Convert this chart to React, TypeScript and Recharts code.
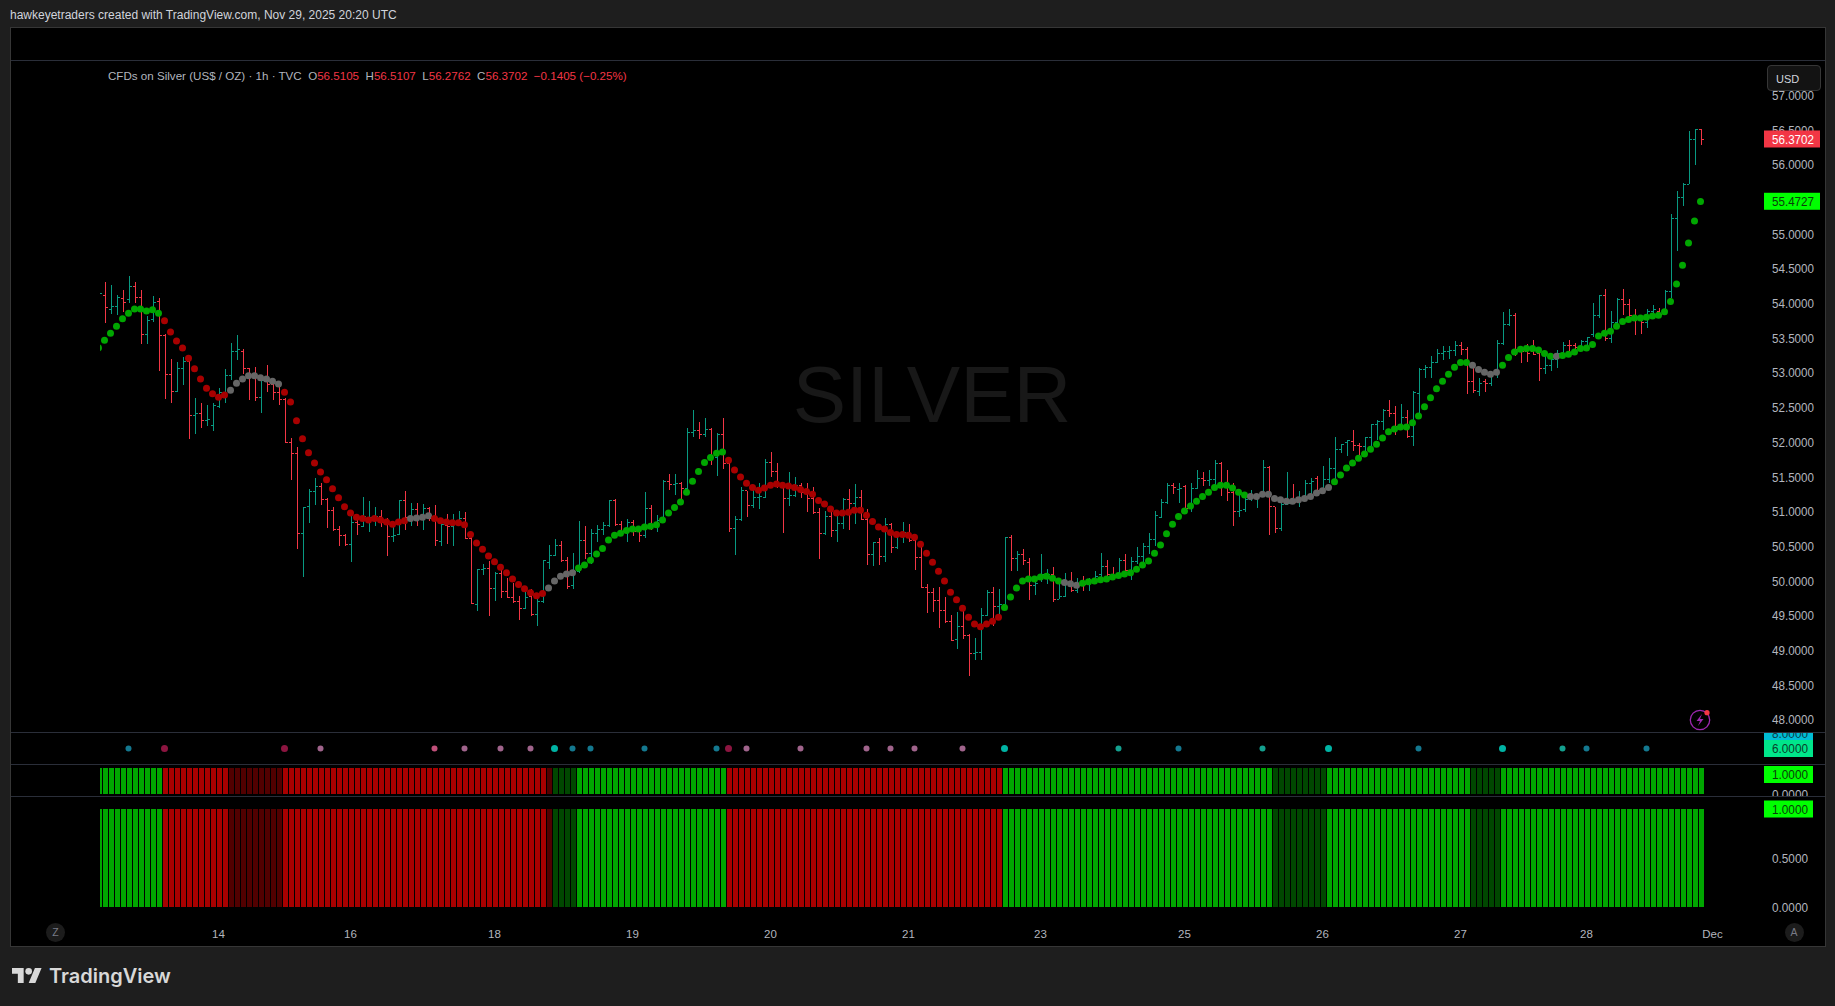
import { Bar, ComposedChart, Line, XAxis, YAxis } from 'recharts';

// hourly OHLC, one value per bar
const opens = [
  54.05,54.12,53.92,53.96,54.07,54.06,54.24,54.08,53.56,53.77,
  54.03,53.54,52.97,52.73,53.07,53.17,52.39,52.42,52.31,52.24,
  52.51,52.72,52.96,53.31,53.31,53.06,52.97,52.64,52.93,52.83,
  52.72,52.62,52.00,51.84,50.69,51.07,51.29,51.36,51.18,51.02,
  50.75,50.65,50.53,50.84,50.78,50.84,50.91,50.93,50.84,50.64,
  50.67,51.16,50.91,51.03,50.92,51.04,50.90,50.57,50.80,50.79,
  50.84,50.90,50.61,49.66,50.16,50.18,49.90,50.11,49.85,49.76,
  49.71,49.60,49.78,49.52,49.70,50.27,50.37,50.51,50.30,49.93,
  50.14,50.58,50.40,50.69,50.75,50.80,51.16,50.81,50.70,50.85,
  50.72,50.65,51.05,50.79,50.87,51.44,51.39,51.41,51.34,52.14,
  52.17,52.11,52.19,51.78,52.11,51.70,50.76,50.88,51.30,51.09,
  51.21,51.21,51.71,51.58,51.41,51.19,51.24,51.37,51.27,51.19,
  50.99,50.68,50.93,50.73,50.83,51.18,51.12,51.21,50.89,50.38,
  50.56,50.35,50.82,50.48,50.67,50.70,50.59,50.34,49.91,49.83,
  49.72,49.58,49.42,49.16,49.35,49.21,48.96,48.97,49.51,49.84,
  49.63,49.66,50.63,50.32,50.38,50.27,49.93,50.04,50.09,50.10,
  49.74,49.78,49.97,49.86,50.00,49.95,50.00,50.09,50.21,50.09,
  50.07,50.30,50.15,50.28,50.35,50.50,50.60,50.92,51.13,51.37,
  51.32,51.36,51.05,51.34,51.48,51.45,51.47,51.70,51.36,51.28,
  51.00,51.03,51.17,51.22,51.22,51.63,51.07,50.76,51.11,51.19,
  51.13,51.19,51.40,51.48,51.30,51.46,51.62,51.89,51.99,52.01,
  51.95,51.94,52.07,52.25,52.30,52.46,52.42,52.23,52.35,52.08,
  52.70,53.05,53.08,53.15,53.28,53.31,53.32,53.40,53.33,52.87,
  52.73,52.87,52.84,52.97,53.43,53.70,53.83,53.33,53.31,53.31,
  53.28,53.07,53.10,53.19,53.28,53.40,53.39,53.38,53.45,53.55,
  53.83,54.11,53.50,53.73,54.06,53.98,53.81,53.79,53.72,53.89,
  53.89,53.84,54.17,55.22,55.53,55.72,56.36,56.51,
];
const highs = [
  54.17,54.31,54.27,54.12,54.20,54.40,54.31,54.20,53.82,54.11,
  54.08,53.56,53.20,53.15,53.23,53.26,52.64,52.57,52.54,52.56,
  52.78,53.05,53.43,53.55,53.34,53.07,53.08,52.96,53.11,52.93,
  52.83,52.64,52.06,51.93,51.07,51.32,51.49,51.41,51.20,51.07,
  50.79,50.68,51.03,50.96,51.21,51.16,51.07,51.03,50.91,50.86,
  51.17,51.30,51.13,51.13,51.11,51.07,51.10,50.89,50.96,50.97,
  51.01,51.00,50.67,50.17,50.24,50.29,50.13,50.18,50.05,49.97,
  49.78,49.90,49.88,49.77,50.31,50.52,50.60,50.58,50.35,50.40,
  50.86,50.80,50.75,50.81,50.85,51.17,51.18,50.87,50.89,50.88,
  50.80,51.28,51.09,50.95,51.46,51.54,51.54,51.43,52.20,52.47,
  52.29,52.35,52.20,52.14,52.35,51.77,50.94,51.35,51.30,51.39,
  51.42,51.76,51.86,51.70,51.42,51.57,51.50,51.41,51.41,51.35,
  51.06,51.01,51.06,50.98,51.19,51.33,51.40,51.31,51.04,50.57,
  50.62,50.91,50.83,50.71,50.85,50.82,50.67,50.57,49.96,49.90,
  49.91,49.77,49.51,49.55,49.63,49.23,49.18,49.61,49.87,49.91,
  49.89,50.64,50.67,50.44,50.46,50.33,50.07,50.39,50.17,50.20,
  50.02,50.11,50.13,50.04,50.08,50.05,50.15,50.40,50.31,50.20,
  50.33,50.39,50.35,50.49,50.55,50.69,51.01,51.18,51.41,51.41,
  51.42,51.38,51.42,51.60,51.57,51.60,51.75,51.72,51.60,51.41,
  51.24,51.27,51.31,51.25,51.75,51.66,51.07,51.12,51.57,51.40,
  51.30,51.46,51.48,51.52,51.66,51.78,52.07,51.98,52.03,52.18,
  51.99,52.08,52.27,52.32,52.48,52.61,52.52,52.55,52.47,52.74,
  53.07,53.12,53.24,53.35,53.39,53.38,53.46,53.45,53.37,53.08,
  52.92,52.91,52.99,53.48,53.87,53.92,53.86,53.39,53.42,53.48,
  53.33,53.32,53.27,53.33,53.45,53.47,53.43,53.47,53.52,54.00,
  54.12,54.21,53.89,54.08,54.21,54.06,53.92,53.84,53.92,53.98,
  53.93,54.20,55.29,55.62,55.73,56.49,56.52,56.51,
];
const lows = [
  54.00,53.72,53.85,53.83,53.87,54.01,54.01,53.41,53.41,53.74,
  53.02,52.63,52.56,52.73,52.83,52.05,52.12,52.20,52.24,52.16,
  52.49,52.57,52.90,53.18,52.99,52.61,52.59,52.42,52.72,52.61,
  52.53,51.99,51.46,50.46,50.06,50.83,51.10,51.10,50.76,50.72,
  50.50,50.50,50.27,50.67,50.78,50.70,50.80,50.78,50.36,50.57,
  50.66,50.74,50.80,50.79,50.74,50.86,50.51,50.50,50.54,50.50,
  50.80,50.60,49.67,49.57,50.09,49.49,49.71,49.76,49.76,49.69,
  49.44,49.60,49.49,49.35,49.69,50.17,50.36,50.27,49.89,49.88,
  50.12,50.32,50.25,50.57,50.67,50.78,50.80,50.65,50.56,50.65,
  50.57,50.62,50.73,50.70,50.83,51.31,51.24,51.17,51.28,52.07,
  52.04,52.08,51.67,51.51,51.61,50.70,50.37,50.87,50.93,51.05,
  51.04,51.19,51.50,51.34,50.69,51.08,51.21,51.19,50.99,50.97,
  50.32,50.67,50.64,50.56,50.75,50.73,50.82,50.88,50.23,50.21,
  50.23,50.27,50.41,50.46,50.55,50.57,50.16,49.90,49.54,49.55,
  49.33,49.40,49.13,49.02,49.16,48.63,48.86,48.86,49.49,49.35,
  49.47,49.63,50.15,50.14,50.23,49.73,49.80,49.99,49.96,49.70,
  49.74,49.77,49.84,49.83,49.85,49.85,49.96,50.04,50.04,50.04,
  50.04,50.11,50.02,50.25,50.26,50.39,50.50,50.91,51.11,51.25,
  51.13,51.03,51.00,51.32,51.37,51.37,51.31,51.23,51.16,50.79,
  50.92,50.99,51.15,51.05,51.22,50.67,50.69,50.72,51.10,51.11,
  51.07,51.19,51.24,51.29,51.29,51.41,51.47,51.84,51.80,51.87,
  51.73,51.80,51.87,52.03,52.18,52.36,52.11,52.18,52.06,51.95,
  52.42,52.92,52.92,53.14,53.19,53.20,53.24,53.26,52.70,52.71,
  52.67,52.72,52.81,52.92,53.40,53.68,53.24,53.14,53.16,53.26,
  52.88,52.99,53.03,53.07,53.21,53.24,53.31,53.35,53.38,53.51,
  53.79,53.46,53.43,53.72,53.84,53.81,53.54,53.56,53.65,53.79,
  53.79,53.83,54.08,54.76,55.41,55.72,56.00,56.28,
];
const closes = [
  54.15,53.94,53.96,54.08,54.02,54.24,54.08,53.56,53.76,54.01,
  53.54,52.97,52.73,53.07,53.16,52.39,52.42,52.31,52.33,52.53,
  52.72,52.96,53.31,53.33,53.06,52.96,52.64,52.89,52.83,52.72,
  52.61,51.99,51.84,50.69,51.06,51.29,51.36,51.18,51.02,50.75,
  50.65,50.53,50.84,50.81,50.93,50.91,50.93,50.84,50.64,50.66,
  51.16,50.91,51.03,50.92,51.04,50.90,50.59,50.81,50.79,50.84,
  50.90,50.61,49.67,50.16,50.18,49.90,50.11,49.85,49.76,49.71,
  49.60,49.76,49.52,49.70,50.29,50.37,50.51,50.30,49.92,50.14,
  50.58,50.40,50.69,50.75,50.80,51.16,50.81,50.71,50.85,50.72,
  50.65,51.05,50.79,50.87,51.44,51.39,51.41,51.34,52.14,52.17,
  52.11,52.19,51.78,52.11,51.70,50.76,50.88,51.30,51.09,51.21,
  51.22,51.71,51.58,51.41,51.19,51.24,51.37,51.27,51.19,50.99,
  50.68,50.93,50.73,50.83,51.18,51.12,51.21,50.89,50.38,50.56,
  50.35,50.82,50.48,50.67,50.70,50.59,50.34,49.91,49.83,49.72,
  49.58,49.42,49.15,49.35,49.21,48.96,48.97,49.51,49.84,49.63,
  49.66,50.63,50.32,50.38,50.30,49.93,49.96,50.09,50.10,49.74,
  49.78,49.97,49.86,49.95,49.95,50.00,50.07,50.21,50.09,50.07,
  50.30,50.15,50.28,50.35,50.50,50.60,50.94,51.13,51.37,51.35,
  51.33,51.05,51.34,51.48,51.45,51.47,51.70,51.36,51.28,51.00,
  51.02,51.17,51.22,51.23,51.63,51.07,50.76,51.11,51.12,51.13,
  51.19,51.40,51.43,51.30,51.46,51.62,51.89,51.97,52.02,51.95,
  51.94,52.07,52.25,52.30,52.46,52.42,52.23,52.36,52.08,52.71,
  53.05,53.08,53.15,53.28,53.31,53.32,53.40,53.33,52.87,52.75,
  52.85,52.84,52.99,53.43,53.70,53.83,53.33,53.31,53.28,53.27,
  53.07,53.10,53.19,53.28,53.40,53.39,53.37,53.45,53.51,53.83,
  54.11,53.49,53.73,54.06,53.98,53.82,53.79,53.72,53.89,53.91,
  53.84,54.17,55.22,55.53,55.72,56.36,56.50,56.37,
];
// trend dots drawn over the bars
const trendDots = [
  53.36,53.47,53.57,53.67,53.78,53.86,53.92,53.92,53.89,53.91,
  53.86,53.75,53.59,53.46,53.36,53.21,53.06,52.91,52.78,52.70,
  52.65,52.68,52.75,52.85,52.91,52.96,52.96,52.93,52.91,52.88,
  52.84,52.72,52.58,52.31,52.05,51.85,51.70,51.57,51.46,51.33,
  51.20,51.07,50.98,50.92,50.90,50.88,50.90,50.88,50.85,50.82,
  50.85,50.87,50.90,50.91,50.92,50.94,50.90,50.87,50.85,50.84,
  50.84,50.81,50.67,50.55,50.46,50.36,50.28,50.20,50.12,50.03,
  49.95,49.89,49.83,49.79,49.82,49.90,50.00,50.07,50.10,50.12,
  50.19,50.23,50.30,50.39,50.47,50.59,50.66,50.69,50.73,50.75,
  50.75,50.78,50.79,50.81,50.88,50.98,51.06,51.14,51.28,51.44,
  51.58,51.71,51.78,51.84,51.86,51.74,51.60,51.50,51.41,51.35,
  51.31,51.34,51.38,51.40,51.38,51.37,51.35,51.32,51.29,51.25,
  51.16,51.11,51.04,50.98,50.98,50.99,51.02,51.02,50.95,50.86,
  50.78,50.75,50.70,50.67,50.67,50.66,50.63,50.53,50.40,50.27,
  50.14,50.00,49.84,49.73,49.61,49.48,49.38,49.34,49.38,49.42,
  49.48,49.62,49.77,49.90,50.00,50.03,50.03,50.06,50.07,50.04,
  50.00,49.98,49.96,49.94,49.97,49.99,50.00,50.02,50.03,50.06,
  50.08,50.10,50.12,50.17,50.23,50.29,50.40,50.52,50.68,50.82,
  50.93,51.01,51.08,51.15,51.22,51.28,51.35,51.38,51.38,51.34,
  51.28,51.24,51.22,51.22,51.25,51.25,51.19,51.17,51.15,51.15,
  51.17,51.19,51.22,51.27,51.30,51.35,51.43,51.53,51.63,51.70,
  51.77,51.83,51.90,51.97,52.06,52.15,52.19,52.22,52.22,52.28,
  52.38,52.51,52.64,52.77,52.88,52.98,53.08,53.15,53.15,53.11,
  53.05,53.01,52.98,53.01,53.11,53.22,53.30,53.34,53.35,53.35,
  53.33,53.28,53.24,53.24,53.25,53.27,53.30,53.35,53.36,53.41,
  53.53,53.57,53.60,53.67,53.74,53.77,53.79,53.79,53.80,53.82,
  53.83,53.88,54.03,54.28,54.55,54.87,55.19,55.47,
];

// [state, number of bars]
const dotRuns: [string, number][] = [
  ['up', 11], ['down', 11], ['flat', 9], ['down', 21], ['flat', 4], ['down', 19], ['flat', 5], ['up', 25], ['down', 46],
  ['up', 10], ['flat', 3], ['up', 28], ['flat', 14], ['up', 23], ['flat', 5], ['up', 9], ['flat', 1], ['up', 24],
];
const histRuns: [string, number][] = [
  ['up', 11], ['down', 11], ['weakDown', 9], ['down', 44], ['weakDown', 1], ['weakUp', 4], ['up', 25], ['down', 46],
  ['up', 45], ['weakUp', 9], ['up', 24], ['weakUp', 5], ['up', 34],
];

const signalBars = [5, 11, 31, 37, 56, 61, 67, 72, 76, 79, 82, 91, 103, 105, 108, 117, 128, 132, 136, 144, 151, 170, 180, 194, 205, 220, 234, 244, 248, 258];
const signalKinds = [
  'tealDim', 'crimson', 'crimson', 'pink', 'rose', 'pink', 'pink', 'pink', 'tealBright', 'tealDim', 'tealDim', 'tealDim', 'tealDim', 'crimson', 'pink',
  'pink', 'pink', 'pink', 'pink', 'pink', 'tealBright', 'tealMid', 'tealDim', 'tealMid', 'tealBright', 'tealDim', 'tealBright', 'tealMid', 'tealDim', 'tealDim',
];

const priceTicks = [48, 48.5, 49, 49.5, 50, 50.5, 51, 51.5, 52, 52.5, 53, 53.5, 54, 54.5, 55, 55.5, 56, 56.5, 57];
const lastPrice = 56.3702;
const lastTrend = 55.4727;
const timeBars = [20, 42, 66, 89, 112, 135, 157, 181, 204, 227, 248, 269];
const timeLabels = ['14', '16', '18', '19', '20', '21', '23', '25', '26', '27', '28', 'Dec'];

const BLANK_BARS = 10;

const UP = '#089981';
const DOWN = '#f23645';
const dotColors: Record<string, string> = { up: '#00a600', down: '#a80000', flat: '#666666' };
const histColors: Record<string, string> = { up: '#00a600', down: '#a80000', weakUp: '#004700', weakDown: '#520000' };
const signalColors: Record<string, string> = {
  tealDim: '#14788f',
  tealMid: '#14a08f',
  tealBright: '#00b3a4',
  crimson: '#8c1540',
  pink: '#a0648c',
  rose: '#c0507a',
};

const AXIS_FONT = '"Liberation Sans", Arial, sans-serif';
const AXIS_COLOR = '#b2b5be';
const LINE_COLOR = '#2a2e39';

const expandRuns = (runs: [string, number][]) => runs.flatMap(([state, n]) => Array<string>(n).fill(state));
const dotStates = expandRuns(dotRuns);
const histStates = expandRuns(histRuns);

const rows = [
  ...opens.map((open, i) => ({
    index: i,
    open,
    high: highs[i],
    low: lows[i],
    close: closes[i],
    dot: trendDots[i],
    dotState: dotStates[i],
    hist: 1,
    histState: histStates[i],
    signal: signalBars.includes(i) ? 6 : null,
    signalKind: signalKinds[signalBars.indexOf(i)],
  })),
  ...Array.from({ length: BLANK_BARS }, (_, k) => ({ index: opens.length + k })),
] as any[];

function OhlcBar(props: any) {
  const { x, y, width, height, payload } = props;
  if (payload.high == null) return <g />;
  const color = payload.close >= payload.open ? UP : DOWN;
  const cx = x + width / 2;
  const perPrice = height / (payload.high - payload.low);
  const openY = y + (payload.high - payload.open) * perPrice;
  const closeY = y + (payload.high - payload.close) * perPrice;
  return (
    <g stroke={color} strokeWidth={1} shapeRendering="crispEdges">
      <line x1={cx} x2={cx} y1={y} y2={y + height} />
      <line x1={cx - 2.5} x2={cx} y1={openY} y2={openY} />
      <line x1={cx} x2={cx + 2.5} y1={closeY} y2={closeY} />
    </g>
  );
}

function HistBar(props: any) {
  const { x, y, width, height, payload } = props;
  if (payload.histState == null) return <g />;
  return <rect x={x} y={y} width={width} height={height} fill={histColors[payload.histState]} shapeRendering="crispEdges" />;
}

function TrendDot(props: any) {
  const { cx, cy, payload, index } = props;
  if (payload.dot == null || cy == null) return <g key={index} />;
  return <circle key={index} cx={cx} cy={cy} r={3.5} fill={dotColors[payload.dotState]} />;
}

function SignalDot(props: any) {
  const { cx, cy, payload, index } = props;
  if (payload.signal == null || cy == null) return <g key={index} />;
  const big = payload.signalKind === 'crimson' || payload.signalKind === 'tealBright';
  return <circle key={index} cx={cx} cy={cy} r={big ? 3.5 : 3} fill={signalColors[payload.signalKind]} />;
}

// scale values are taller and narrower in the original font, so squeeze to its width
function ScaleText({ x, y, fill, value }: any) {
  const label = value.toFixed(4);
  return (
    <text x={x} y={y + 4.6} fill={fill} fontSize={12.8} fontFamily={AXIS_FONT} textLength={label.length * 6} lengthAdjust="spacingAndGlyphs">
      {label}
    </text>
  );
}

// right hand scale label, with a coloured tag for the live values
function ScaleTick(props: any) {
  const { x, y, payload, tags } = props;
  const tag = tags?.[payload.value];
  if (tag) {
    const dy = tag.dy ?? 0;
    return (
      <g>
        <rect x={x - 7.5} y={y + dy - 8.5} width={tag.width} height={17} fill={tag.fill} />
        <ScaleText x={x + 0.5} y={y + dy} fill={tag.text} value={payload.value} />
      </g>
    );
  }
  return <ScaleText x={x + 0.5} y={y} fill={AXIS_COLOR} value={payload.value} />;
}

const priceTags = {
  [lastPrice]: { fill: DOWN, text: '#ffffff', width: 56 },
  [lastTrend]: { fill: '#00ff00', text: '#0b3d0b', width: 56 },
};
const signalTags = {
  8: { fill: '#00bcd4', text: '#0b3d4a', width: 49 },
  6: { fill: '#00e68a', text: '#0b3d2a', width: 49 },
};
const smallUnitTags = { 1: { fill: '#00ff00', text: '#0b3d0b', width: 49, dy: 6.5 } };
const unitTags = { 1: { fill: '#00ff00', text: '#0b3d0b', width: 49 } };

function Pane({ top, height, children }: { top: number; height: number; children: any }) {
  return (
    <div style={{ position: 'absolute', left: 100, top, width: 1725, height, overflow: 'hidden' }}>
      <div style={{ position: 'absolute', left: -5, top: 0 }}>{children}</div>
    </div>
  );
}

const CHART_WIDTH = 1730;

function Label({ left, top, children, style }: any) {
  return (
    <div style={{ position: 'absolute', left, top, whiteSpace: 'pre', fontFamily: AXIS_FONT, fontSize: 12, lineHeight: '14px', ...style }}>
      {children}
    </div>
  );
}

export default function App() {
  return (
    <div style={{ position: 'absolute', left: 0, top: 0, width: 1835, height: 1006, background: '#1e1e1e', overflow: 'hidden' }}>
      <Label left={10} top={8} style={{ color: '#d1d4dc', fontSize: 12 }}>hawkeyetraders created with TradingView.com, Nov 29, 2025 20:20 UTC</Label>

      <div style={{ position: 'absolute', left: 10, top: 27, width: 1814, height: 918, background: '#000000', border: '1px solid #363636', boxSizing: 'content-box' }} />
      <div style={{ position: 'absolute', left: 11, top: 60, width: 1814, height: 1, background: LINE_COLOR }} />
      <div style={{ position: 'absolute', left: 11, top: 732, width: 1814, height: 1, background: LINE_COLOR }} />
      <div style={{ position: 'absolute', left: 11, top: 764, width: 1814, height: 1, background: LINE_COLOR }} />
      <div style={{ position: 'absolute', left: 11, top: 796, width: 1814, height: 1, background: LINE_COLOR }} />

      <div style={{ position: 'absolute', left: 932, top: 395, transform: 'translate(-50%, -50%)', color: '#181818', fontFamily: AXIS_FONT, fontSize: 80 }}>SILVER</div>

      <Pane top={61} height={671}>
        <ComposedChart width={CHART_WIDTH} height={671} data={rows} margin={{ top: 0, right: 0, bottom: 0, left: 0.5 }}>
          <XAxis dataKey="index" hide scale="band" />
          <YAxis
            orientation="right"
            width={61.5}
            domain={[47.825, 57.494]}
            allowDataOverflow
            ticks={[...priceTicks, lastTrend, lastPrice]}
            interval={0}
            axisLine={false}
            tickLine={false}
            tick={<ScaleTick tags={priceTags} />}
          />
          <Bar dataKey={(r: any) => (r.high == null ? null : [r.low, r.high])} barSize={5} shape={<OhlcBar />} isAnimationActive={false} />
          <Line dataKey="dot" stroke="none" dot={TrendDot} activeDot={false} legendType="none" isAnimationActive={false} />
        </ComposedChart>
      </Pane>

      <Pane top={733} height={31}>
        <ComposedChart width={CHART_WIDTH} height={31} data={rows} margin={{ top: 0, right: 0, bottom: 0, left: 0.5 }}>
          <XAxis dataKey="index" hide scale="band" />
          <YAxis orientation="right" width={61.5} domain={[4, 8]} ticks={[8, 6]} interval={0} axisLine={false} tickLine={false} tick={<ScaleTick tags={signalTags} />} />
          <Line dataKey="signal" stroke="none" dot={SignalDot} activeDot={false} isAnimationActive={false} />
        </ComposedChart>
      </Pane>

      <Pane top={765} height={31}>
        <ComposedChart width={CHART_WIDTH} height={31} data={rows} margin={{ top: 3, right: 0, bottom: 2, left: 0.5 }}>
          <XAxis dataKey="index" hide scale="band" />
          <YAxis orientation="right" width={61.5} domain={[0, 1]} ticks={[0, 1]} interval={0} axisLine={false} tickLine={false} tick={<ScaleTick tags={smallUnitTags} />} />
          <Bar dataKey="hist" barSize={5} shape={<HistBar />} isAnimationActive={false} />
        </ComposedChart>
      </Pane>

      <Pane top={797} height={148}>
        <ComposedChart width={CHART_WIDTH} height={148} data={rows} margin={{ top: 12, right: 0, bottom: 0, left: 0.5 }}>
          <XAxis
            dataKey="index"
            scale="band"
            height={38}
            axisLine={false}
            tickLine={false}
            ticks={timeBars}
            interval={0}
            tickMargin={17}
            tickFormatter={(v: number) => timeLabels[timeBars.indexOf(v)]}
            tick={{ fill: AXIS_COLOR, fontSize: 11.5, fontFamily: AXIS_FONT }}
          />
          <YAxis orientation="right" width={61.5} domain={[0, 1]} ticks={[0, 0.5, 1]} interval={0} axisLine={false} tickLine={false} tick={<ScaleTick tags={unitTags} />} />
          <Bar dataKey="hist" barSize={5} shape={<HistBar />} isAnimationActive={false} />
        </ComposedChart>
      </Pane>

      <Label left={108} top={69} style={{ color: '#b2b5be', fontSize: 11.6 }}>
        {'CFDs on Silver (US$ / OZ) · 1h · TVC  O'}
        <span style={{ color: DOWN }}>56.5105</span>{'  H'}
        <span style={{ color: DOWN }}>56.5107</span>{'  L'}
        <span style={{ color: DOWN }}>56.2762</span>{'  C'}
        <span style={{ color: DOWN }}>56.3702  −0.1405 (−0.25%)</span>
      </Label>

      <div style={{ position: 'absolute', left: 1767, top: 65, width: 54, height: 26, boxSizing: 'border-box', background: '#131313', border: '1px solid #363636', borderRadius: 4 }} />
      <Label left={1776} top={72} style={{ color: '#d1d4dc', fontSize: 11 }}>USD</Label>

      <svg style={{ position: 'absolute', left: 1688, top: 708, width: 24, height: 24 }} viewBox="0 0 24 24">
        <circle cx={12} cy={12} r={9.7} fill="none" stroke="#9c27b0" strokeWidth={1.3} />
        <path d="M14 6 L8.5 13 H12 L10 18 L15.5 11 H12 Z" fill="#9c27b0" />
        <circle cx={19} cy={4.7} r={2.6} fill={DOWN} />
      </svg>

      {[['Z', 55.5], ['A', 1794]].map(([letter, x]) => (
        <div key={letter as string} style={{ position: 'absolute', left: (x as number) - 9.5, top: 922.5, width: 19, height: 19, borderRadius: 10, background: '#1c1c1c', color: '#787b86', fontFamily: AXIS_FONT, fontSize: 10.5, textAlign: 'center', lineHeight: '19px' }}>{letter}</div>
      ))}

      <svg style={{ position: 'absolute', left: 12, top: 968, width: 30, height: 15 }} viewBox="0 4 36 18">
        <path d="M14 22H7V11H0V4h14v18zM28 22h-8l7.5-18h8L28 22z" fill="#d8d8d8" />
        <circle cx={20} cy={8} r={4} fill="#d8d8d8" />
      </svg>
      <div style={{ position: 'absolute', left: 49, top: 963, color: '#d8d8d8', fontFamily: 'Inter, sans-serif', fontWeight: 600, fontSize: 20, lineHeight: '26px' }}>TradingView</div>
    </div>
  );
}
